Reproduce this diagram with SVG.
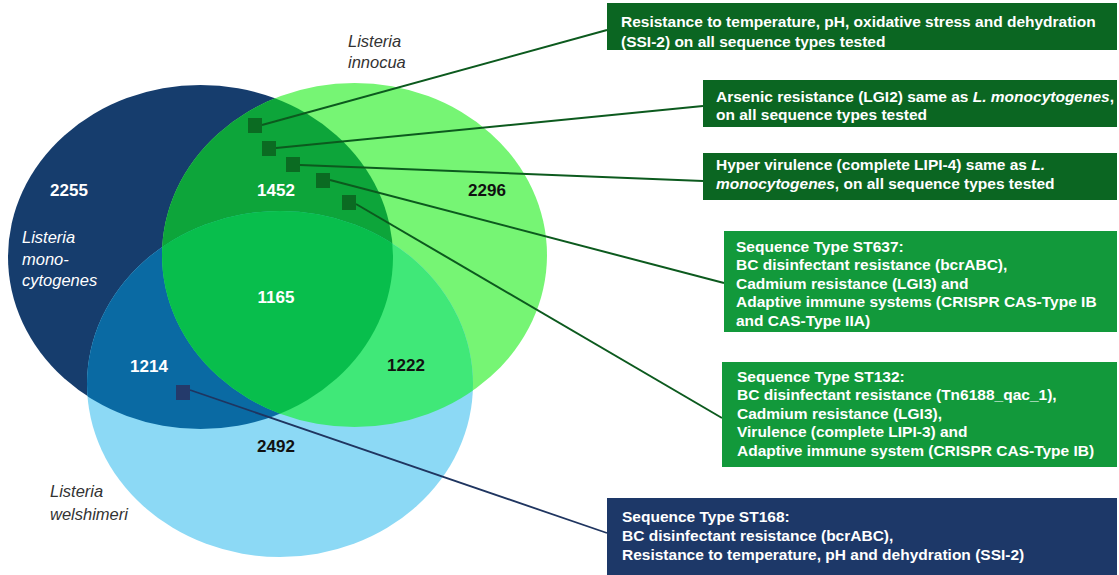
<svg xmlns="http://www.w3.org/2000/svg" width="1119" height="575" viewBox="0 0 1119 575">
<style>
.num{font-family:"Liberation Sans",Arial,sans-serif;font-weight:bold;font-size:17px;text-anchor:middle}
.w{fill:#ffffff}
.k{fill:#111111}
.sp{font-family:"Liberation Sans",Arial,sans-serif;font-style:italic;font-size:16.5px}
.bt{font-family:"Liberation Sans",Arial,sans-serif;font-weight:bold;font-size:15.5px;fill:#ffffff}
.it{font-style:italic}
.cg{stroke:#0c5a1e;stroke-width:2;fill:none}
.cb{stroke:#1f3560;stroke-width:1.8;fill:none}
.sqg{fill:#0b6b22}
.sqb{fill:#243a6b}
.bd{fill:#0b6622}
.bm{fill:#12993b}
.bn{fill:#1d3868}
</style>
<defs>
<clipPath id="clipB"><ellipse cx="354.5" cy="255" rx="192.5" ry="172"/></clipPath>
<clipPath id="clipC"><ellipse cx="280" cy="384" rx="193" ry="173"/></clipPath>
</defs>
<rect width="1119" height="575" fill="#ffffff"/>
<g id="venn">
<ellipse id="setA" cx="200.5" cy="257" rx="192.5" ry="172" fill="#163d6d"/>
<ellipse id="setB" cx="354.5" cy="255" rx="192.5" ry="172" fill="#76f574"/>
<ellipse id="setC" cx="280" cy="384" rx="193" ry="173" fill="#8cd9f5"/>
<ellipse cx="200.5" cy="257" rx="192.5" ry="172" fill="#0da53a" clip-path="url(#clipB)"/>
<ellipse cx="200.5" cy="257" rx="192.5" ry="172" fill="#0a6aa3" clip-path="url(#clipC)"/>
<ellipse cx="354.5" cy="255" rx="192.5" ry="172" fill="#40e878" clip-path="url(#clipC)"/>
<g clip-path="url(#clipB)"><ellipse cx="200.5" cy="257" rx="192.5" ry="172" fill="#08be4c" clip-path="url(#clipC)"/></g>
</g>
<g id="venn-labels">
<text class="sp" x="348" y="47" fill="#333333">Listeria</text>
<text class="sp" x="348" y="68" fill="#333333">innocua</text>
<text class="sp w" x="22" y="243">Listeria</text>
<text class="sp w" x="22" y="265">mono-</text>
<text class="sp w" x="22" y="286">cytogenes</text>
<text class="sp" x="50" y="497" fill="#333333">Listeria</text>
<text class="sp" x="50" y="520" fill="#333333">welshimeri</text>
<text class="num w" x="69" y="196">2255</text>
<text class="num w" x="276" y="196">1452</text>
<text class="num k" x="487" y="196">2296</text>
<text class="num w" x="276" y="303">1165</text>
<text class="num w" x="149" y="372">1214</text>
<text class="num k" x="406" y="371">1222</text>
<text class="num k" x="276" y="452">2492</text>
</g>
<g id="connectors">
<line class="cg" x1="262" y1="125" x2="607" y2="30"/>
<line class="cg" x1="276" y1="148" x2="703" y2="106"/>
<line class="cg" x1="300" y1="165" x2="703" y2="181"/>
<line class="cg" x1="330" y1="180" x2="724" y2="283"/>
<line class="cg" x1="356" y1="204" x2="722" y2="418"/>
<line class="cb" x1="190" y1="390" x2="607" y2="533"/>
</g>
<g id="markers">
<rect id="m1" class="sqg" x="248" y="118" width="14" height="15"/>
<rect id="m2" class="sqg" x="262" y="141" width="14" height="15"/>
<rect id="m3" class="sqg" x="286" y="157" width="14" height="15"/>
<rect id="m4" class="sqg" x="316" y="173" width="14" height="15"/>
<rect id="m5" class="sqg" x="342" y="195" width="14" height="15"/>
<rect id="m6" class="sqb" x="176" y="385" width="14" height="15"/>
</g>
<g id="box1">
<rect class="bd" x="607" y="3" width="510" height="47"/>
<text class="bt" x="621" y="26.5">Resistance to temperature, pH, oxidative stress and dehydration</text>
<text class="bt" x="621" y="46.5">(SSI-2) on all sequence types tested</text>
</g>
<g id="box2">
<rect class="bd" x="703" y="80" width="414" height="47"/>
<text class="bt" x="716" y="102">Arsenic resistance (LGI2) same as <tspan class="it">L. monocytogenes</tspan>,</text>
<text class="bt" x="716" y="120">on all sequence types tested</text>
</g>
<g id="box3">
<rect class="bd" x="703" y="153" width="414" height="47"/>
<text class="bt" x="716" y="170">Hyper virulence (complete LIPI-4) same as <tspan class="it">L.</tspan></text>
<text class="bt" x="716" y="188.5"><tspan class="it">monocytogenes</tspan>, on all sequence types tested</text>
</g>
<g id="box4">
<rect class="bm" x="724" y="231" width="393" height="101"/>
<text class="bt" x="736" y="251.5">Sequence Type ST637:</text>
<text class="bt" x="736" y="270">BC disinfectant resistance (bcrABC),</text>
<text class="bt" x="736" y="288.5">Cadmium resistance (LGI3) and</text>
<text class="bt" x="736" y="307">Adaptive immune systems (CRISPR CAS-Type IB</text>
<text class="bt" x="736" y="325.5">and CAS-Type IIA)</text>
</g>
<g id="box5">
<rect class="bm" x="722" y="362" width="395" height="105"/>
<text class="bt" x="737" y="381.5">Sequence Type ST132:</text>
<text class="bt" x="737" y="400">BC disinfectant resistance (Tn6188_qac_1),</text>
<text class="bt" x="737" y="418.5">Cadmium resistance (LGI3),</text>
<text class="bt" x="737" y="437">Virulence (complete LIPI-3) and</text>
<text class="bt" x="737" y="455.5">Adaptive immune system (CRISPR CAS-Type IB)</text>
</g>
<g id="box6">
<rect class="bn" x="607" y="498" width="510" height="77"/>
<text class="bt" x="622" y="521.5">Sequence Type ST168:</text>
<text class="bt" x="622" y="540.5">BC disinfectant resistance (bcrABC),</text>
<text class="bt" x="622" y="559.5">Resistance to temperature, pH and dehydration (SSI-2)</text>
</g>
</svg>
